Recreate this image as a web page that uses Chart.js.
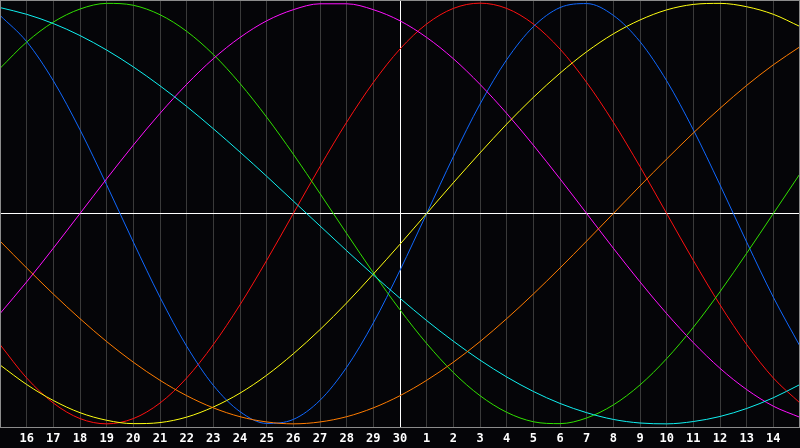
<!DOCTYPE html>
<html>
<head>
<meta charset="utf-8">
<script src="https://cdn.jsdelivr.net/npm/chart.js@4.4.1/dist/chart.umd.min.js"></script>
<style>
  body { margin: 0; background: #050508; }
  canvas { display: block; }
</style>
</head>
<body>
<canvas id="biochart" width="800" height="448"></canvas>
<script>

/* Day labels along the bottom (first and last grid lines have none) */
var dayLabels = ['', '16', '17', '18', '19', '20', '21', '22', '23', '24', '25', '26', '27', '28', '29', '30',
                 '1', '2', '3', '4', '5', '6', '7', '8', '9', '10', '11', '12', '13', '14', ''];

/* Curve values, -100 .. 100, one per day */
var redVals     = [-62.3, -78.2, -90.1, -97.5, -100, -97.5, -90.1, -78.2, -62.3, -43.4, -22.3, 0, 22.3, 43.4, 62.3, 78.2,
                   90.1, 97.5, 100, 97.5, 90.1, 78.2, 62.3, 43.4, 22.3, 0, -22.3, -43.4, -62.3, -78.2, -90.1];
var blueVals    = [94.2, 81.7, 63.1, 39.8, 13.6, -13.6, -39.8, -63.1, -81.7, -94.2, -99.8, -97.9, -88.8, -73.1, -52.0, -27.0,
                   0, 27.0, 52.0, 73.1, 88.8, 97.9, 99.8, 94.2, 81.7, 63.1, 39.8, 13.6, -13.6, -39.8, -63.1];
var greenVals   = [69.0, 81.5, 91.0, 97.2, 99.9, 99.0, 94.5, 86.6, 75.6, 61.8, 45.8, 28.2, 9.5, -9.5, -28.2, -45.8,
                   -61.8, -75.6, -86.6, -94.5, -99.0, -99.9, -97.2, -91.0, -81.5, -69.0, -54.1, -37.2, -18.9, 0, 18.9];
var magentaVals = [-47.6, -32.5, -16.5, 0, 16.5, 32.5, 47.6, 61.4, 73.6, 83.7, 91.6, 96.9, 99.7, 99.7, 96.9, 91.6,
                   83.7, 73.6, 61.4, 47.6, 32.5, 16.5, 0, -16.5, -32.5, -47.6, -61.4, -73.6, -83.7, -91.6, -96.9];
var cyanVals    = [97.9, 94.7, 90.3, 84.6, 77.7, 69.7, 60.7, 50.9, 40.3, 29.2, 17.7, 5.9, -5.9, -17.7, -29.2, -40.3,
                   -50.9, -60.7, -69.7, -77.7, -84.6, -90.3, -94.7, -97.9, -99.6, -100, -98.9, -96.5, -92.7, -87.6, -81.3];
var yellowVals  = [-72.0, -81.3, -88.9, -94.7, -98.3, -99.9, -99.4, -96.8, -92.0, -85.4, -76.9, -66.7, -55.2, -42.5, -28.8, -14.6,
                   0, 14.6, 28.8, 42.5, 55.2, 66.7, 76.9, 85.4, 92.0, 96.8, 99.4, 99.9, 98.3, 94.7, 88.9];
var orangeVals  = [-13.1, -25.9, -38.3, -50.0, -60.9, -70.7, -79.3, -86.6, -92.4, -96.6, -99.1, -100, -99.1, -96.6, -92.4, -86.6,
                   -79.3, -70.7, -60.9, -50.0, -38.3, -25.9, -13.1, 0, 13.1, 25.9, 38.3, 50.0, 60.9, 70.7, 79.3];


/* background + frame round the plot */
var framePlugin = {
  id: 'frame',
  beforeDraw: function (chart) {
    var c = chart.ctx;
    c.save();
    c.fillStyle = '#050508';
    c.fillRect(0, 0, chart.width, chart.height);
    c.restore();
  },
  afterDraw: function (chart) {
    var a = chart.chartArea, c = chart.ctx;
    c.save();
    c.strokeStyle = '#8c8c8c';
    c.lineWidth = 1;
    c.strokeRect(a.left + 0.5, a.top + 0.5, a.right - a.left - 1, a.bottom - a.top);
    c.restore();
  }
};

function line(vals, colour) {
  return {
    data: vals,
    borderColor: colour,
    borderWidth: 1,
    pointRadius: 0,
    pointHoverRadius: 0,
    cubicInterpolationMode: 'monotone',
    fill: false
  };
}

var bio = document.getElementById('biochart');
var biochart = new Chart(bio, {
  type: 'line',
  data: {
    labels: dayLabels,
    datasets: [
      line(orangeVals, '#ff7c00'),
      line(cyanVals, '#10f0f0'),
      line(yellowVals, '#ffff10'),
      line(magentaVals, '#ff10ff'),
      line(greenVals, '#30e000'),
      line(blueVals, '#1068ff'),
      line(redVals, '#ff1010')
    ]
  },
  options: {
    responsive: false,
    animation: false,
    devicePixelRatio: 1,
    layout: { autoPadding: false, padding: 0 },
    plugins: {
      legend: { display: false },
      tooltip: { enabled: false }
    },
    scales: {
      x: {
        type: 'category',
        offset: false,
        border: { display: false },
        afterFit: function (scale) {
          scale.paddingLeft = 0;
          scale.paddingRight = 0;
          scale.height = 21;
        },
        grid: {
          drawTicks: false,
          color: function (ctx) { return ctx.index === 15 ? '#ffffff' : '#3a3a3a'; }
        },
        ticks: {
          autoSkip: false,
          maxRotation: 0,
          padding: 6,
          color: '#ffffff',
          font: { family: 'DejaVu Sans Mono', size: 12, weight: 'bold', lineHeight: 1 }
        }
      },
      y: {
        min: -101.5,
        max: 101.5,
        border: { display: false },
        afterBuildTicks: function (axis) { axis.ticks = [{ value: 0 }]; },
        grid: { drawTicks: false, color: '#ffffff' },
        ticks: { display: false }
      }
    }
  },
  plugins: [framePlugin]
});

</script>
</body>
</html>
